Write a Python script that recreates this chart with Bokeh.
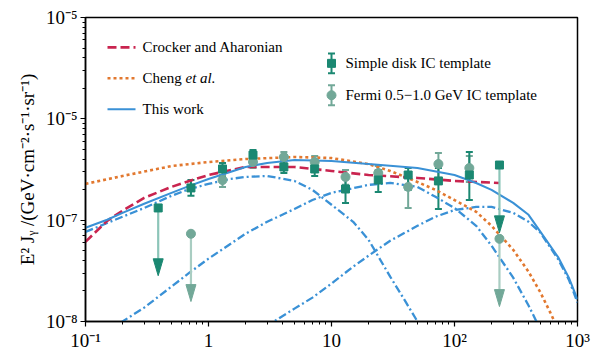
import math

from bokeh.plotting import figure
from bokeh.models import ColumnDataSource, Whisker, TeeHead, CustomJSTickFormatter
from bokeh.core.properties import value
from bokeh.embed import file_html
from bokeh.resources import INLINE

# ---------------------------------------------------------------- data
# model curves: photon energy E (GeV) and E^2 J (GeV cm^-2 s^-1 sr^-1)
crocker_e = [0.1, 0.15, 0.2, 0.3, 0.5, 0.7, 1, 2, 5, 10, 20, 50, 100, 230]
crocker_f = [6.12e-8, 9.85e-8, 1.24e-7, 1.66e-7, 2.13e-7, 2.44e-7, 2.79e-7,
             3.35e-7, 3.35e-7, 3.06e-7, 2.79e-7, 2.61e-7, 2.44e-7, 2.33e-7]

cheng_e = [0.1, 0.2, 0.5, 1, 2, 5, 10, 20, 30, 50, 70, 100, 150, 200, 300,
           400, 500, 600, 650, 700]
cheng_f = [2.28e-7, 2.73e-7, 3.42e-7, 3.75e-7, 4.01e-7, 4.20e-7, 4.10e-7,
           3.58e-7, 3.06e-7, 2.38e-7, 1.99e-7, 1.58e-7, 1.21e-7, 8.8e-8,
           5.1e-8, 3.1e-8, 1.93e-8, 1.23e-8, 1.0e-8, 8.0e-9]

total_e = [0.1, 0.15, 0.2, 0.3, 0.5, 0.7, 1, 1.5, 2, 3, 5, 10, 20, 50, 100,
           150, 200, 300, 400, 500, 700, 850, 1000]
total_f = [8.41e-8, 1.01e-7, 1.18e-7, 1.45e-7, 1.86e-7, 2.18e-7, 2.55e-7,
           2.99e-7, 3.35e-7, 3.66e-7, 3.92e-7, 3.83e-7, 3.58e-7, 3.27e-7,
           2.79e-7, 2.33e-7, 1.99e-7, 1.48e-7, 1.13e-7, 7.67e-8, 4.26e-8,
           2.71e-8, 1.65e-8]

comp_low_e = [0.1, 0.2, 0.3, 0.5, 0.7, 1, 1.5, 2, 3, 5, 7, 10, 15, 20, 30,
              40, 50, 60]
comp_low_f = [7.67e-8, 1.08e-7, 1.32e-7, 1.74e-7, 2.03e-7, 2.28e-7, 2.55e-7,
              2.67e-7, 2.73e-7, 2.44e-7, 1.99e-7, 1.42e-7, 9.63e-8, 6.41e-8,
              2.77e-8, 1.57e-8, 1.0e-8, 6.5e-9]

comp_mid_e = [0.15, 0.2, 0.3, 0.5, 0.7, 1, 2, 3, 5, 7, 10, 20, 30, 50, 70,
              100, 150, 200, 300, 400, 500]
comp_mid_f = [8.0e-9, 1.0e-8, 1.37e-8, 2.21e-8, 3.03e-8, 4.17e-8, 7.34e-8,
              9.63e-8, 1.29e-7, 1.58e-7, 1.86e-7, 2.23e-7, 2.33e-7, 2.13e-7,
              1.70e-7, 1.32e-7, 8.8e-8, 5.6e-8, 2.71e-8, 1.44e-8, 8.3e-9]

comp_high_e = [3, 3.4, 5, 7, 10, 15, 20, 30, 50, 70, 100, 150, 200, 300, 400,
               500, 700, 850, 1000]
comp_high_f = [8.5e-9, 1.0e-8, 1.34e-8, 1.72e-8, 2.37e-8, 3.48e-8, 4.46e-8,
               6.26e-8, 8.8e-8, 1.08e-7, 1.26e-7, 1.35e-7, 1.35e-7, 1.18e-7,
               9.63e-8, 7.51e-8, 4.07e-8, 2.59e-8, 1.54e-8]

# measured spectra
disk_e = [0.72, 1.3, 2.3, 4.1, 7.3, 13, 24, 42, 74, 132]
disk_f = [2.08e-7, 3.20e-7, 4.39e-7, 3.35e-7, 3.20e-7, 2.03e-7, 2.49e-7,
          2.79e-7, 2.44e-7, 2.79e-7]
disk_lo = [1.74e-7, 2.67e-7, 3.75e-7, 2.92e-7, 2.73e-7, 1.48e-7, 1.90e-7,
           1.99e-7, 1.29e-7, 1.58e-7]
disk_hi = [2.49e-7, 3.66e-7, 4.92e-7, 3.92e-7, 3.66e-7, 2.61e-7, 3.13e-7,
           3.27e-7, 3.27e-7, 4.70e-7]
disk_ul_e = [0.39, 232]
disk_ul_f = [1.32e-7, 3.50e-7]

fermi_e = [1.3, 2.3, 4.1, 7.3, 13, 24, 42, 74, 132]
fermi_f = [2.49e-7, 3.75e-7, 4.20e-7, 3.75e-7, 2.67e-7, 2.92e-7, 2.13e-7,
           3.58e-7, 3.27e-7]
fermi_lo = [2.13e-7, 3.27e-7, 3.66e-7, 3.27e-7, 2.23e-7, 2.38e-7, 1.32e-7,
            2.61e-7, 2.38e-7]
fermi_hi = [2.79e-7, 4.30e-7, 4.70e-7, 4.29e-7, 3.13e-7, 3.42e-7, 2.99e-7,
            4.59e-7, 4.29e-7]
fermi_ul_e = [0.72, 232]
fermi_ul_f = [7.34e-8, 6.55e-8]

# axis ticks
x_tick_values = [0.1, 1, 10, 100, 1000]
x_tick_labels = ["10⁻¹", "1", "10", "10²", "10³"]
y_tick_values = [1e-8, 1e-7, 1e-6, 1e-5]
y_tick_labels = ["10⁻⁸", "10⁻⁷", "10⁻⁵", "10⁻⁵"]
y_title = "E² Jᵧ /(GeV·cm⁻²·s⁻¹·sr⁻¹)"

# ---------------------------------------------------------------- style
SERIF = "Liberation Serif"
RED = "#c9244f"
ORANGE = "#e2782f"
BLUE = "#3a91d6"
DISK = "#1b8872"
DISK_LIGHT = "#8cc5b8"
FERMI = "#72a898"
FERMI_LIGHT = "#a9cdc2"

X_MIN, X_MAX = 0.1, 1e3
Y_MIN, Y_MAX = 1e-8, 1e-5
FRAME_W, FRAME_H = 492, 305
BORDER_L, BORDER_T = 85, 17
WIDTH, HEIGHT = 593, 353

LX0, LX1 = math.log10(X_MIN), math.log10(X_MAX)
LY0, LY1 = math.log10(Y_MIN), math.log10(Y_MAX)
PX_PER_DEC_X = FRAME_W / (LX1 - LX0)
PX_PER_DEC_Y = FRAME_H / (LY1 - LY0)


def frame_point(dx, dy):
    """Data coordinates of the point dx px right of, dy px below the frame's top-left corner."""
    return (10 ** (LX0 + dx / PX_PER_DEC_X), 10 ** (LY1 - dy / PX_PER_DEC_Y))


def shift_y(v, px):
    """Move a flux value px pixels downwards on the log axis."""
    return v / 10 ** (px / PX_PER_DEC_Y)


def shift_x(v, px):
    return v * 10 ** (px / PX_PER_DEC_X)


p = figure(width=WIDTH, height=HEIGHT, x_axis_type="log", y_axis_type="log",
           x_range=(X_MIN, X_MAX), y_range=(Y_MIN, Y_MAX),
           output_backend="svg", toolbar_location=None,
           min_border_left=BORDER_L, min_border_top=BORDER_T,
           min_border_right=WIDTH - BORDER_L - FRAME_W,
           min_border_bottom=HEIGHT - BORDER_T - FRAME_H)
p.background_fill_color = "white"
p.border_fill_color = "white"
p.outline_line_color = "black"
p.outline_line_width = 1.5
p.xgrid.visible = False
p.ygrid.visible = False

# ---------------------------------------------------------------- axes
tick_js = """
const e = Math.round(Math.log10(tick));
for (let i = 0; i < exps.length; i++) { if (exps[i] == e) { return labels[i]; } }
return "";
"""
p.xaxis.formatter = CustomJSTickFormatter(
    args=dict(exps=[round(math.log10(v)) for v in x_tick_values], labels=x_tick_labels),
    code=tick_js)
p.yaxis.formatter = CustomJSTickFormatter(
    args=dict(exps=[round(math.log10(v)) for v in y_tick_values], labels=y_tick_labels),
    code=tick_js)

for ax in (p.xaxis[0], p.yaxis[0]):
    ax.axis_line_color = "black"
    ax.axis_line_width = 1.5
    ax.major_tick_line_color = "black"
    ax.minor_tick_line_color = "black"
    ax.major_tick_line_width = 1.2
    ax.major_tick_in = 0
    ax.major_tick_out = 5
    ax.minor_tick_in = 0
    ax.minor_tick_out = 3
    ax.major_label_text_font = SERIF
    ax.major_label_text_font_size = "19px"
    ax.major_label_text_color = "black"
    ax.major_label_standoff = 3

p.yaxis.axis_label = y_title
p.yaxis.axis_label_text_font = SERIF
p.yaxis.axis_label_text_font_size = "19px"
p.yaxis.axis_label_text_font_style = "normal"
p.yaxis.axis_label_text_color = "black"
p.yaxis.axis_label_standoff = 5

# ---------------------------------------------------------------- model curves
DASHDOT = "8 3 2 3"
for ce, cf in ((comp_low_e, comp_low_f), (comp_mid_e, comp_mid_f), (comp_high_e, comp_high_f)):
    p.line(ce, cf, line_color=BLUE, line_width=2.3, line_dash=DASHDOT)
p.line(cheng_e, cheng_f, line_color=ORANGE, line_width=2.6, line_dash="3 3")
p.line(crocker_e, crocker_f, line_color=RED, line_width=2.6, line_dash="9 4")
p.line(total_e, total_f, line_color=BLUE, line_width=2.1)

# ---------------------------------------------------------------- data points
UL_LEN = 68      # arrow length, px
HEAD_LEN = 17
HEAD_HALF = 5


def upper_limits(es, fs, shaft_color, head_color):
    tips = [shift_y(f, UL_LEN) for f in fs]
    bases = [shift_y(f, UL_LEN - HEAD_LEN) for f in fs]
    p.segment(x0=es, y0=fs, x1=es, y1=bases, line_color=shaft_color, line_width=2.2)
    xs = [[shift_x(e, -HEAD_HALF), shift_x(e, HEAD_HALF), e] for e in es]
    ys = [[b, b, t] for b, t in zip(bases, tips)]
    p.patches(xs, ys, fill_color=head_color, line_color=head_color, line_width=1)


def error_bars(es, lo, hi, color):
    src = ColumnDataSource(dict(x=es, lo=lo, hi=hi))
    p.add_layout(Whisker(source=src, base="x", lower="lo", upper="hi",
                         dimension="height", line_color=color, line_width=2,
                         upper_head=TeeHead(size=7, line_color=color, line_width=2),
                         lower_head=TeeHead(size=7, line_color=color, line_width=2)))


upper_limits(disk_ul_e, disk_ul_f, DISK_LIGHT, DISK)
upper_limits(fermi_ul_e, fermi_ul_f, FERMI_LIGHT, FERMI)
error_bars(fermi_e, fermi_lo, fermi_hi, FERMI)
error_bars(disk_e, disk_lo, disk_hi, DISK)
p.scatter(fermi_e + fermi_ul_e, fermi_f + fermi_ul_f, marker="circle", size=9,
          fill_color=FERMI, line_color=FERMI)
p.scatter(disk_e + disk_ul_e, disk_f + disk_ul_f, marker="square", size=8,
          fill_color=DISK, line_color=DISK)

# ---------------------------------------------------------------- legends
LEG_FONT = "15px"


def legend_text(dx, dy, text, style="normal"):
    x, y = frame_point(dx, dy)
    p.text([x], [y], text=[text], text_font=value(SERIF), text_font_size=LEG_FONT,
           text_font_style=style, text_baseline="middle", text_align="left",
           text_color="black")


line_items = [("Crocker and Aharonian", RED, "9 4", 2.6),
              ("Cheng", ORANGE, "3 3", 2.6),
              ("This work", BLUE, "solid", 2.1)]
for i, (lab, col, dash, lw) in enumerate(line_items):
    dy = 30 + i * 31
    (xa, ya), (xb, _) = frame_point(22, dy), frame_point(50, dy)
    p.line([xa, xb], [ya, ya], line_color=col, line_width=lw, line_dash=dash)
    legend_text(57, dy, lab)
    if lab == "Cheng":
        legend_text(100, dy, "et al.", "italic")

marker_items = [("Simple disk IC template", "square", DISK, 8),
                ("Fermi 0.5\u22121.0 GeV IC template", "circle", FERMI, 9)]
for i, (lab, mk, col, sz) in enumerate(marker_items):
    dy = 46 + i * 32
    xm, ym = frame_point(246, dy)
    _, y_hi = frame_point(246, dy - 10)
    _, y_lo = frame_point(246, dy + 10)
    error_bars([xm], [y_lo], [y_hi], col)
    p.scatter([xm], [ym], marker=mk, size=sz, fill_color=col, line_color=col)
    legend_text(260, dy, lab)

open("out.html", "w").write(file_html(p, INLINE))
